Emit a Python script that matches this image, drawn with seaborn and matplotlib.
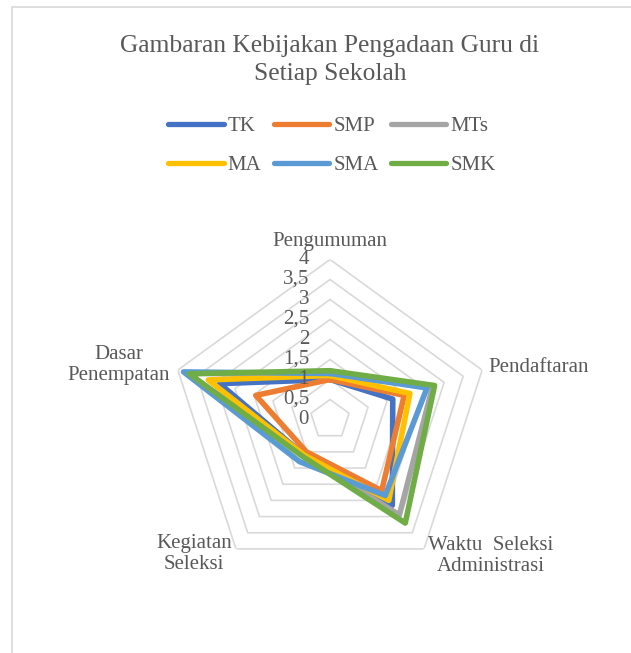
import numpy as np
import pandas as pd
import seaborn as sns
import matplotlib.pyplot as plt
import matplotlib.transforms as mtransforms
from matplotlib.lines import Line2D
from matplotlib.patches import Rectangle

# axis categories (clockwise from top)
categories = ["Pengumuman", "Pendaftaran", "Waktu  Seleksi\nAdministrasi",
              "Kegiatan\nSeleksi", "Dasar\nPenempatan"]
schools = ["TK", "SMP", "MTs", "MA", "SMA", "SMK"]

# values
TK = [1.0, 1.65, 2.65, 1.1, 2.9]
SMP = [1.0, 1.95, 2.2, 1.0, 1.95]
MTs = [1.1, 2.7, 2.95, 1.1, 3.75]
MA = [1.1, 2.1, 2.5, 1.1, 3.2]
SMA = [1.15, 2.55, 2.35, 1.3, 3.85]
SMK = [1.22, 2.75, 3.2, 1.15, 3.7]

ring_levels = [0.5, 1, 1.5, 2, 2.5, 3, 3.5, 4]
tick_labels = ["0", "0,5", "1", "1,5", "2", "2,5", "3", "3,5", "4"]
colors = ["#4472C4", "#ED7D31", "#A5A5A5", "#FFC000", "#5B9BD5", "#70AD47"]

sns.set_style("white")
plt.rcParams["font.family"] = ["Liberation Serif", "DejaVu Serif"]
text_col = "#595959"

W, H = 631, 653
fig = plt.figure(figsize=(W / 100, H / 100), dpi=100)

# polar axes centred at (330, 419.5) px, radius 160 px for value 4
cx, cy, R = 330, 419.5, 160
ax = fig.add_axes([(cx - R) / W, (H - cy - R) / H, 2 * R / W, 2 * R / H],
                  projection="polar")
ax.set_theta_offset(np.pi / 2)
ax.set_theta_direction(-1)
ax.set_ylim(0, 4)
ax.set_xticks([])
ax.set_yticks([])
ax.grid(False)
ax.spines["polar"].set_visible(False)
ax.patch.set_alpha(0)

n = len(categories)
angles = np.linspace(0, 2 * np.pi, n, endpoint=False)
closed = np.append(angles, 2 * np.pi)

# pentagon grid
for lv in ring_levels:
    ax.plot(closed, [lv] * (n + 1), color="#D9D9D9", lw=1.2, zorder=1)

# long-format data for seaborn
rows = []
for name, vals in zip(schools, [TK, SMP, MTs, MA, SMA, SMK]):
    vv = list(vals) + [vals[0]]
    for a, v in zip(closed, vv):
        rows.append({"angle": a, "value": v, "school": name})
df = pd.DataFrame(rows)

sns.lineplot(data=df, x="angle", y="value", hue="school", hue_order=schools,
             palette=colors, sort=False, estimator=None, linewidth=4.0,
             legend=False, ax=ax, zorder=3)
ax.set_xlabel("")
ax.set_ylabel("")
ax.set_ylim(0, 4)

# radial tick labels
off = mtransforms.offset_copy(ax.transData, fig=fig, x=-21, y=0, units="dots")
for i, lab in enumerate(tick_labels):
    ax.text(0, i * 0.5, lab, transform=off, ha="right", va="center",
            fontsize=15, color=text_col)

# category labels
lab_pos = [(0, 18, "center"), (6, 3, "left"), (4, -7, "left"),
           (-4, -5, "right"), (-8, 5, "right")]
for a, cat, (dx, dy, ha) in zip(angles, categories, lab_pos):
    tr = mtransforms.offset_copy(ax.transData, fig=fig, x=dx, y=dy, units="dots")
    ax.text(a, 4, cat, transform=tr, ha=ha, va="center", fontsize=15,
            color=text_col, multialignment="center", linespacing=1.2)

# title
fig.text(cx / W, 1 - 60 / H, "Gambaran Kebijakan Pengadaan Guru di\nSetiap Sekolah",
         ha="center", va="center", fontsize=18.4, color=text_col, linespacing=1.35)

# legend (column-major order so rows read TK SMP MTs / MA SMA SMK)
handles = [Line2D([], [], color=c, lw=3.8, solid_capstyle="round") for c in colors]
order = [0, 3, 1, 4, 2, 5]
fig.legend([handles[i] for i in order], [schools[i] for i in order], ncol=3,
           loc="center", bbox_to_anchor=(332 / W, 1 - 146 / H), frameon=False,
           fontsize=15, labelcolor=text_col, handlelength=2.65,
           handletextpad=0.2, columnspacing=0.6, labelspacing=0.95)

# chart border
fig.add_artist(Rectangle((12 / W, -0.1), 1.2, 1 - 7 / H + 0.1,
                         transform=fig.transFigure, fill=False,
                         edgecolor="#D9D9D9", lw=1.2))

fig.savefig("out.png", dpi=100, facecolor="white")
